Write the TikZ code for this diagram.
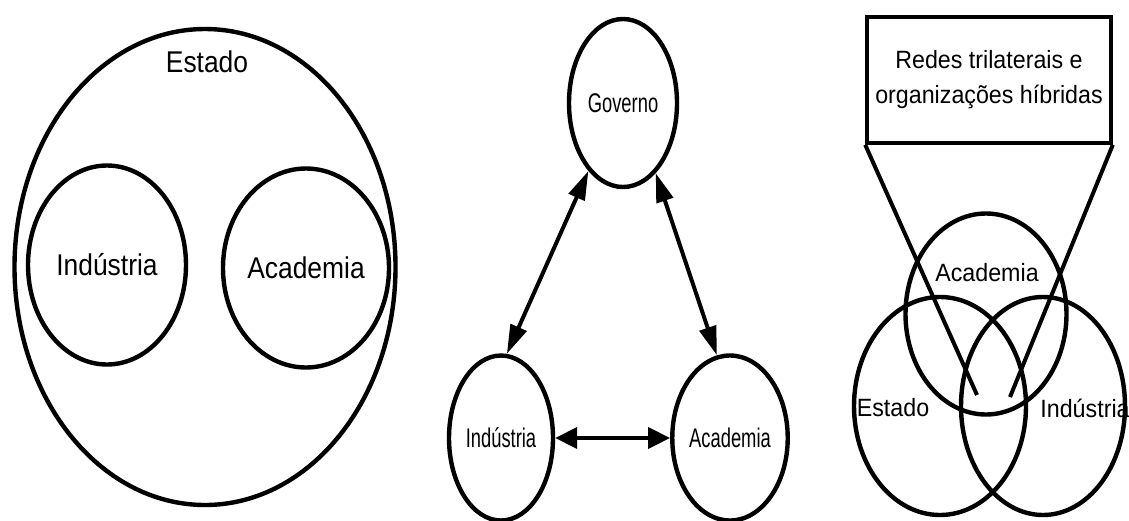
\documentclass[tikz,border=0pt]{standalone}
\usepackage{fontspec}
\setmainfont{Liberation Sans}
\newfontfamily\widefont[FakeStretch=0.88]{Liberation Sans}
\newfontfamily\narrowfont[FakeStretch=0.68]{Liberation Sans}
\newfontfamily\boxfont[FakeStretch=0.93]{Liberation Sans}
\usetikzlibrary{shapes.geometric,arrows.meta}

\begin{document}
\begin{tikzpicture}[x=1pt,y=-1pt,
  ring/.style={draw, ellipse, line width=4.4pt, inner sep=0pt},
  leftlabel/.style={font=\widefont\fontsize{30}{30}\selectfont},
  midlabel/.style={font=\narrowfont\fontsize{27}{27}\selectfont},
  rightlabel/.style={font=\boxfont\fontsize{25}{35}\selectfont},
  link/.style={line width=4pt,
    {Triangle[length=29pt,width=17pt]}-{Triangle[length=29pt,width=17pt]}},
  flatlink/.style={line width=4pt,
    {Triangle[length=22pt,width=21pt]}-{Triangle[length=22pt,width=21pt]}},
  ray/.style={line width=4pt}]
\useasboundingbox (0,0) rectangle (1129,520);

% --- Panel 1: the state containing industry and academia
\node[ring, minimum width=381pt, minimum height=476pt] (estado) at (205,267) {};
\node[leftlabel] (estadolabel) at (207,62) {Estado};
\node[ring, leftlabel, minimum width=158pt, minimum height=199pt] (industria) at (107,265) {Indústria};
\node[ring, leftlabel, minimum width=160pt, minimum height=199pt] (academia) at (306,268) {Academia};

% --- Panel 2: three separate spheres linked by arrows
\node[ring, midlabel, minimum width=108pt, minimum height=168pt] (gov) at (623,103) {Governo};
\node[ring, midlabel, minimum width=104pt, minimum height=165pt] (ind) at (501,438) {Indústria};
\node[ring, midlabel, minimum width=107pt, minimum height=165pt] (aca) at (730,438) {Academia};
\draw[link] (gov.243) -- (ind.86);
\draw[link] (gov.295) -- (aca.99);
\draw[flatlink] (ind.east) -- (aca.west);

% --- Panel 3: overlapping spheres and hybrid organisations
\node[draw, line width=3.6pt, rightlabel, align=center, minimum width=244pt, minimum height=126pt] (box) at (989,80)
  {Redes trilaterais e\\organizações híbridas};
\node[ring, minimum width=161pt, minimum height=201pt] (vacad) at (986,314) {};
\node[ring, minimum width=172pt, minimum height=218pt] (vest) at (940,406) {};
\node[ring, minimum width=164pt, minimum height=218pt] (vind) at (1043,406) {};
\node[rightlabel] (vacadlabel) at (987,273) {Academia};
\node[rightlabel] (vestlabel) at (893,408) {Estado};
\node[rightlabel] (vindlabel) at (1085,408) {Indústria};
\coordinate (rayl) at (977,395);
\coordinate (rayr) at (1010,397);
\draw[ray] (box.south west) -- (rayl);
\draw[ray] (box.south east) -- (rayr);
\end{tikzpicture}
\end{document}
